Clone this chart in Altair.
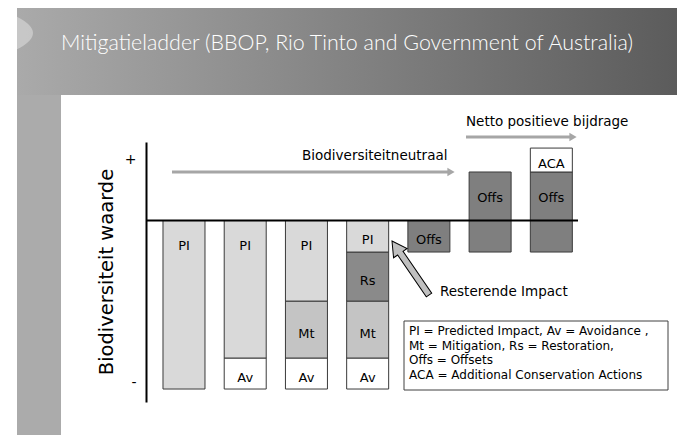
import altair as alt
import pandas as pd

# ---------------- data ----------------
title_text = "Mitigatieladder (BBOP, Rio Tinto and Government of Australia)"
stages = ["Impact", "Vermijden", "Mitigatie", "Herstel", "Compensatie", "Neutraal", "Netto winst"]

seg_stage = [0, 1, 1, 2, 2, 2, 3, 3, 3, 3, 4, 5, 6, 6]
seg_code = ["PI", "Av", "PI", "Av", "Mt", "PI", "Av", "Mt", "Rs", "PI", "Offs", "Offs", "Offs", "ACA"]
seg_low = [-100, -100, -81.6, -100, -81.6, -47.8, -100, -81.6, -47.8, -18.7, -18.7, -18.7, -18.7, 28.8]
seg_high = [0, -81.6, 0, -81.6, -47.8, 0, -81.6, -47.8, -18.7, 0, 0, 28.8, 28.8, 43.0]

codes = ["PI", "Av", "Mt", "Rs", "Offs", "ACA"]
code_colors = ["#d9d9d9", "#ffffff", "#c4c4c4", "#8a8a8a", "#7f7f7f", "#ffffff"]

axis_values = [36.5, -96.4]
y_title = "Biodiversiteit waarde"
neutral_label = "Biodiversiteitneutraal"
net_label = "Netto positieve bijdrage"
residual_label = "Resterende Impact"
legend_lines = [
    "PI = Predicted Impact, Av = Avoidance ,",
    "Mt = Mitigation, Rs = Restoration,",
    "Offs = Offsets",
    "ACA = Additional Conservation Actions",
]

# ---------------- tables ----------------
seg_df = pd.DataFrame({
    "stage": [stages[i] for i in seg_stage],
    "code": seg_code,
    "low": seg_low,
    "high": seg_high,
})
seg_df["label_y"] = [
    (h - 13) if (h - l) > 40 else (h + l) / 2 for l, h in zip(seg_df["low"], seg_df["high"])
]
one = pd.DataFrame({"k": [0]})

W, H = 432, 260
FONT = "DejaVu Sans"

xscale = alt.Scale(domain=stages, paddingInner=0.314, paddingOuter=0.185, align=0.75)
yscale = alt.Scale(domain=[-107.7, 46.6], nice=False, zero=False)

# ---------------- slide decoration ----------------
header = alt.Chart(one).mark_rect(
    fill=alt.Gradient(
        gradient="linear",
        stops=[alt.GradientStop(color="#aaaaaa", offset=0), alt.GradientStop(color="#5a5a5a", offset=1)],
        x1=0, x2=1, y1=0, y2=0,
    )
).encode(x=alt.value(-129), x2=alt.value(545), y=alt.value(-140), y2=alt.value(-47))

strip = alt.Chart(one).mark_rect(color="#ababab").encode(
    x=alt.value(-129), x2=alt.value(-85), y=alt.value(-47), y2=alt.value(295)
)

notch = alt.Chart(one).mark_point(
    shape="M -1 -1 Q 1 0 -1 1 Z", filled=True, fill="#ffffff", stroke=None, opacity=0.35, size=1100
).encode(x=alt.value(-113), y=alt.value(-109))

title = alt.Chart(one).mark_text(
    text=title_text, color="white", font="Lato", fontWeight=300,
    fontSize=21.4, align="left", baseline="alphabetic"
).encode(x=alt.value(-85), y=alt.value(-92))

# ---------------- chart ----------------
bars = alt.Chart(seg_df).mark_bar(stroke="#3a3a3a", strokeWidth=1).encode(
    x=alt.X("stage:N", scale=xscale, axis=None),
    y=alt.Y("low:Q", scale=yscale, axis=alt.Axis(
        values=axis_values, labelExpr="datum.value > 0 ? '+' : '-'", ticks=False,
        domainColor="black", domainWidth=2, labelFontSize=14, labelColor="black",
        labelFont=FONT, labelPadding=10, title=None, grid=False)),
    y2="high:Q",
    color=alt.Color("code:N", scale=alt.Scale(domain=codes, range=code_colors), legend=None),
)

zero = alt.Chart(one).mark_rule(color="black", strokeWidth=2).encode(
    y=alt.datum(0), x=alt.value(0), x2=alt.value(W)
)

labels = alt.Chart(seg_df).mark_text(font=FONT, fontSize=13, color="black", baseline="middle", dy=4).encode(
    x=alt.X("stage:N", scale=xscale, axis=None),
    y=alt.Y("label_y:Q", scale=yscale),
    text="code:N",
)

ytitle = alt.Chart(one).mark_text(
    text=y_title, font=FONT, fontSize=19.5, angle=270, align="center", baseline="alphabetic", color="black"
).encode(x=alt.value(-33), y=alt.value(H / 2))

ARROW = "#a6a6a6"
neutral_line = alt.Chart(one).mark_rule(color=ARROW, strokeWidth=3).encode(
    x=alt.value(26), x2=alt.value(302), y=alt.value(30))
neutral_head = alt.Chart(one).mark_point(shape="triangle-right", filled=True, color=ARROW, opacity=1, size=70).encode(
    x=alt.value(305), y=alt.value(30))
neutral_text = alt.Chart(one).mark_text(text=neutral_label, font=FONT, fontSize=13.5, align="left", baseline="middle", color="black").encode(
    x=alt.value(156), y=alt.value(14))

net_line = alt.Chart(one).mark_rule(color=ARROW, strokeWidth=3).encode(
    x=alt.value(320), x2=alt.value(424), y=alt.value(-5))
net_head = alt.Chart(one).mark_point(shape="triangle-right", filled=True, color=ARROW, opacity=1, size=70).encode(
    x=alt.value(427), y=alt.value(-5))
net_text = alt.Chart(one).mark_text(text=net_label, font=FONT, fontSize=13.5, align="left", baseline="middle", color="black").encode(
    x=alt.value(320), y=alt.value(-20))

res_arrow = alt.Chart(one).mark_point(
    shape="M 0 -1 L 0.25 -0.55 L 0.1 -0.55 L 0.1 1 L -0.1 1 L -0.1 -0.55 L -0.25 -0.55 Z",
    filled=True, fill="#c0c0c0", stroke="black", strokeWidth=1, opacity=1, size=4290, angle=325.6
).encode(x=alt.value(264.5), y=alt.value(126))
res_text = alt.Chart(one).mark_text(text=residual_label, font=FONT, fontSize=13.5, align="left", baseline="middle", color="black").encode(
    x=alt.value(294), y=alt.value(150))

legend_box = alt.Chart(one).mark_rect(fill="white", stroke="#404040", strokeWidth=1).encode(
    x=alt.value(258), x2=alt.value(522), y=alt.value(179), y2=alt.value(248))
legend_text = alt.Chart(one).mark_text(
    text=legend_lines, font=FONT, fontSize=12, align="left", baseline="top", lineHeight=14.7, color="black"
).encode(x=alt.value(263), y=alt.value(184))

chart = alt.layer(
    header, strip, notch, title,
    bars, zero, labels, ytitle,
    neutral_line, neutral_head, neutral_text,
    net_line, net_head, net_text,
    res_arrow, res_text, legend_box, legend_text,
).properties(
    width=W, height=H, autosize="none",
    padding={"left": 138, "top": 134, "right": 99, "bottom": 33},
    background="white",
).configure_view(stroke=None)

chart.save("out.html", embed_options={"renderer": "svg", "actions": False})
